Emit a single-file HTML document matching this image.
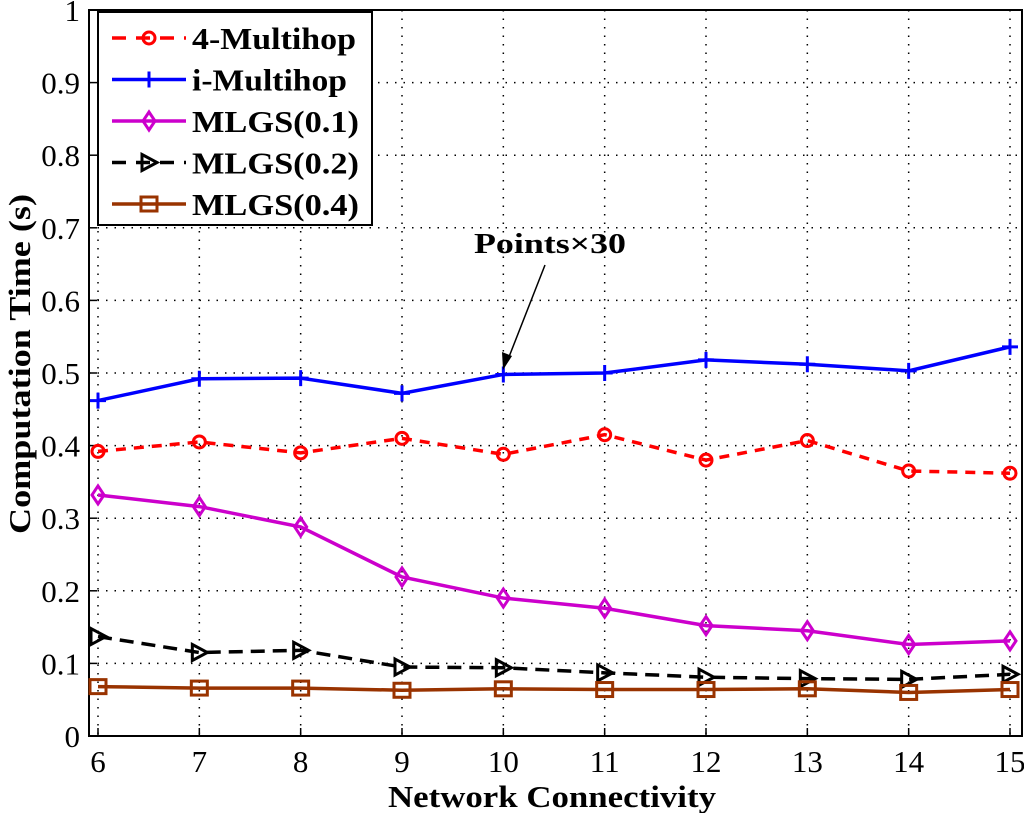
<!DOCTYPE html>
<html><head><meta charset="utf-8"><style>body{margin:0;background:#fff}svg text{font-family:"Liberation Serif",serif}</style></head>
<body>
<svg id="c" width="1024" height="813"></svg>
<script>
const categories=[6,7,8,9,10,11,12,13,14,15];
const yTicks=[0,0.1,0.2,0.3,0.4,0.5,0.6,0.7,0.8,0.9,1];
const yTickLabels=["0","0.1","0.2","0.3","0.4","0.5","0.6","0.7","0.8","0.9","1"];
const multihop4=[.392,.405,.390,.410,.388,.415,.380,.407,.365,.362];
const iMultihop=[.462,.492,.493,.472,.498,.500,.518,.512,.503,.536];
const mlgs01=[.332,.316,.288,.219,.190,.176,.152,.145,.126,.131];
const mlgs02=[.137,.115,.118,.095,.094,.087,.081,.079,.078,.085];
const mlgs04=[.068,.066,.066,.063,.065,.064,.064,.065,.060,.064];
const seriesNames=["4-Multihop","i-Multihop","MLGS(0.1)","MLGS(0.2)","MLGS(0.4)"];

const NS="http://www.w3.org/2000/svg",svg=document.getElementById('c');
const L=89,R=1022,T=10,B=736;
const xs=v=>98+(v-6)*(1010-98)/9, ys=v=>B-v*(B-T);
function el(t,a,p){const e=document.createElementNS(NS,t);for(const k in a)e.setAttribute(k,a[k]);(p||svg).appendChild(e);return e;}
yTicks.forEach((v,i)=>{
 if(v>0&&v<1){const g=el('line',{x1:L,x2:R,y1:ys(v),y2:ys(v),stroke:'#000','stroke-width':1.5,'stroke-dasharray':'1.5 7'});
 }
 const tk=el('line',{x1:L,x2:L+8,y1:ys(v),y2:ys(v),stroke:'#000','stroke-width':1.5});
 
 const t=el('text',{x:L-9,y:ys(v)+11,'text-anchor':'end','font-size':31});t.textContent=yTickLabels[i];
 
});
categories.forEach(c=>{
 const g=el('line',{x1:xs(c),x2:xs(c),y1:T,y2:B,stroke:'#000','stroke-width':1.5,'stroke-dasharray':'1.5 7'});
 
 const tk=el('line',{x1:xs(c),x2:xs(c),y1:B,y2:B-8,stroke:'#000','stroke-width':1.5});
 
 const t=el('text',{x:xs(c),y:B+36,'text-anchor':'middle','font-size':31});t.textContent=c;
 
});
const fr=el('rect',{x:L,y:T,width:R-L,height:B-T,fill:'none',stroke:'#000','stroke-width':2});


function marker(type,x,y,col,p){
 let m;
 if(type==='o')m=el('circle',{cx:x,cy:y,r:6,fill:'none',stroke:col,'stroke-width':3},p);
 else if(type==='+'){m=el('path',{d:`M${x-8} ${y}H${x+8}M${x} ${y-8}V${y+8}`,stroke:col,'stroke-width':3},p);}
 else if(type==='d')m=el('path',{d:`M${x} ${y-9}L${x+6} ${y}L${x} ${y+9}L${x-6} ${y}Z`,fill:'none',stroke:col,'stroke-width':3},p);
 else if(type==='>')m=el('path',{d:`M${x-7} ${y-8}L${x+8} ${y}L${x-7} ${y+8}Z`,fill:'none',stroke:col,'stroke-width':3},p);
 else m=el('rect',{x:x-8,y:y-7,width:16,height:14,fill:'none',stroke:col,'stroke-width':3},p);
 return m;
}
const series=[[multihop4,'#ff0000','o','10 8'],[iMultihop,'#0000ff','+',''],[mlgs01,'#cc00cc','d',''],[mlgs02,'#000','>','14 8'],[mlgs04,'#993300','s','']];
series.forEach((s,i)=>{
 const g=el('g',{});
 const pl=el('polyline',{points:s[0].map((v,j)=>xs(categories[j])+','+ys(v)).join(' '),fill:'none',stroke:s[1],'stroke-width':3.5,'stroke-dasharray':s[3]},g);
 
 s[0].forEach((v,j)=>{const m=marker(s[2],xs(categories[j]),ys(v),s[1],g);
  });
});
const lg=el('g',{});
el('rect',{x:98,y:12,width:274,height:213,fill:'#fff',stroke:'#000','stroke-width':2},lg);
series.forEach((s,i)=>{
 const y=38+i*41.5;
 const e=el('g',{},lg);
 el('line',{x1:112,x2:186,y1:y,y2:y,stroke:s[1],'stroke-width':3.5,'stroke-dasharray':s[3]?'14 10':''},e);
 marker(s[2],149,y,s[1],e);
 const t=el('text',{x:192,y:y+11,'font-size':31,'font-weight':'bold',textLength:i<2?(i==0?164:155):167,lengthAdjust:'spacingAndGlyphs'},e);t.textContent=seriesNames[i];
});
const an=el('g',{});
el('text',{x:474,y:253,'font-size':29,'font-weight':'bold',textLength:152,lengthAdjust:'spacingAndGlyphs'},an).textContent='Points×30';
el('line',{x1:545,y1:265,x2:507,y2:362,stroke:'#000','stroke-width':1.5},an);
el('path',{d:'M503 370L502 352L512 356Z',fill:'#000'},an);
const xt=el('text',{x:552,y:807,'text-anchor':'middle','font-size':31,'font-weight':'bold',textLength:328,lengthAdjust:'spacingAndGlyphs'});xt.textContent='Network Connectivity';

const yt=el('text',{x:0,y:0,'text-anchor':'middle','font-size':31,'font-weight':'bold',textLength:340,lengthAdjust:'spacingAndGlyphs',transform:'translate(30,364) rotate(-90)'});yt.textContent='Computation Time (s)';

</script>
</body></html>
